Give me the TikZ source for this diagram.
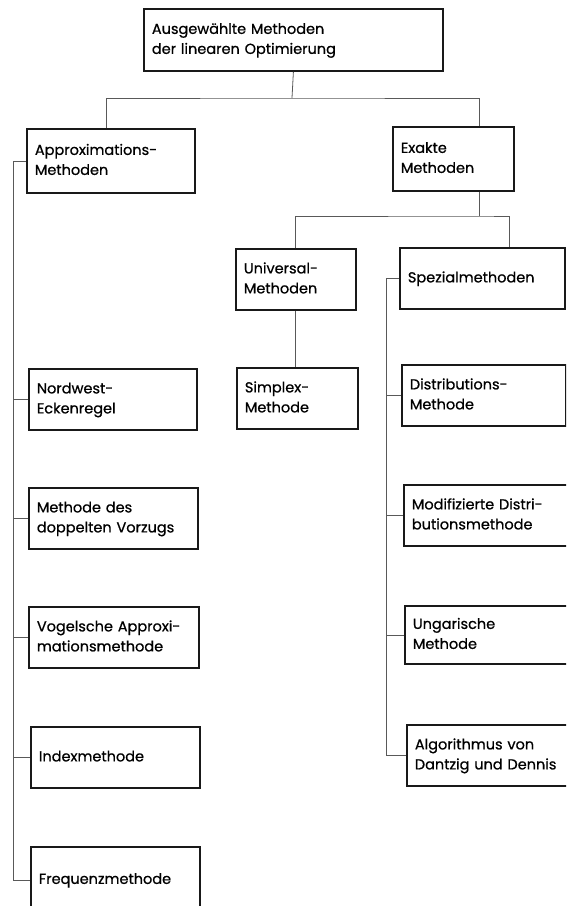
\documentclass[tikz,border=0pt]{standalone}
\usepackage{fontspec}
\setmainfont{Poppins}[FakeBold=0.7]
\begin{document}
\begin{tikzpicture}[x=1pt,y=-1pt,
  box/.style={draw=black!90,line width=1.8pt,anchor=north west,align=left,
    inner xsep=8pt,inner ysep=0pt,font=\fontsize{14.5}{20}\selectfont},
  link/.style={draw=black!65,line width=0.8pt}]
\useasboundingbox (0,0) rectangle (566,906);
\clip (0,0) rectangle (566,906);
\newcommand\mkbox[6]{%
  \pgfmathsetmacro\boxwd{#4-#2}%
  \pgfmathsetmacro\boxht{#5-#3}%
  \pgfmathsetmacro\boxtx{#4-#2-16}%
  \node[box,minimum width=\boxwd pt,minimum height=\boxht pt,text width=\boxtx pt]
    (#1) at (#2,#3) {\begin{tabular}{@{}l@{}}#6\end{tabular}};}
% root
\mkbox{top}{143}{8}{442}{70}{Ausgewählte Methoden\\der linearen Optimierung}
% second level
\mkbox{appr}{26}{128}{194}{192}{Approximations-\\Methoden}
\mkbox{exa}{392}{126}{513}{190}{Exakte\\Methoden}
% exact methods
\mkbox{univ}{235}{248}{355}{309}{Universal-\\Methoden}
\mkbox{spez}{399}{247}{564}{308}{Spezialmethoden}
\mkbox{simp}{236}{367}{357}{428}{Simplex-\\Methode}
\mkbox{dist}{401}{364}{565}{425}{Distributions-\\Methode}
\mkbox{modi}{403}{484}{567}{545}{Modifizierte Distri-\\butionsmethode}
\mkbox{ung}{404}{605}{567}{663}{Ungarische\\Methode}
\mkbox{algo}{406}{724}{569}{785}{Algorithmus von\\Dantzig und Dennis}
% approximation methods
\mkbox{nord}{28}{368}{196}{429}{Nordwest-\\Eckenregel}
\mkbox{meth}{28}{487}{197}{548}{Methode des\\doppelten Vorzugs}
\mkbox{vog}{28}{606}{198}{667}{Vogelsche Approxi-\\mationsmethode}
\mkbox{idx}{30}{726}{199}{787}{Indexmethode}
\mkbox{freq}{30}{846}{199}{912}{Frequenzmethode}
% junction points and bus lines
\coordinate (j1) at (292,98);
\coordinate (a1) at (106,0);
\coordinate (e1) at (479,0);
\coordinate (j2) at (479,216);
\coordinate (u1) at (295,0);
\coordinate (s1) at (509,0);
\coordinate (L) at (13,0);
\coordinate (R) at (386,0);
\draw[link] (top.south) -- (j1);
\draw[link] (appr.north -| a1) |- (j1) -| (exa.north -| e1);
\draw[link] (exa.south -| e1) -- (j2);
\draw[link] (univ.north -| u1) |- (j2) -| (spez.north -| s1);
\draw[link] (univ.south -| u1) -- (simp.north -| u1);
% left branch
\draw[link] (appr.west) -| (L |- freq.west) -- (freq.west);
\foreach \n in {nord,meth,vog,idx} \draw[link] (L |- \n.west) -- (\n.west);
% right branch
\draw[link] (spez.west) -| (R |- algo.west) -- (algo.west);
\foreach \n in {dist,modi,ung} \draw[link] (R |- \n.west) -- (\n.west);
\end{tikzpicture}
\end{document}
